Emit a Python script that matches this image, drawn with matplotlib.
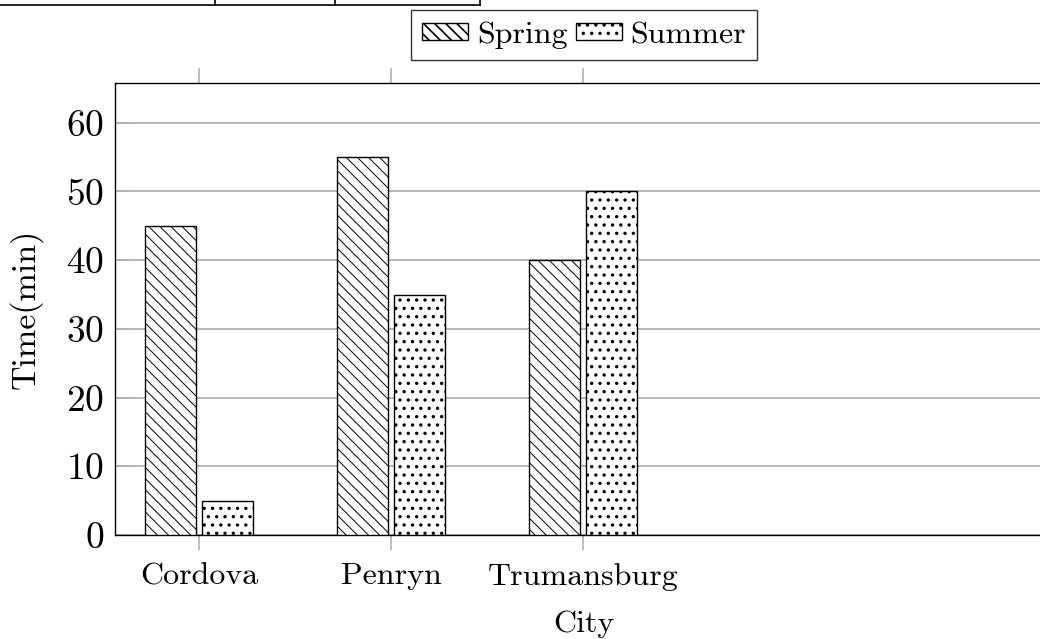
import numpy as np
import matplotlib
matplotlib.use('Agg')
import matplotlib.pyplot as plt
from matplotlib.lines import Line2D

# Data
cities = ['Cordova', 'Penryn', 'Trumansburg']
spring = [45, 55, 40]
summer = [5, 35, 50]

plt.rcParams['font.family'] = 'cmr10'
plt.rcParams['mathtext.fontset'] = 'cm'
plt.rcParams['axes.formatter.use_mathtext'] = True

fig = plt.figure(figsize=(10.4, 6.39), dpi=100)
ax = fig.add_axes([0.1106, 0.1628, 0.902, 0.7074])

x = np.arange(len(cities))
width = 0.265
plt.rcParams['hatch.linewidth'] = 0.7
ax.bar(x - 0.147, spring, width, facecolor='white', edgecolor='black',
       linewidth=1.0, hatch='\\\\\\', label='Spring', zorder=3)
plt.rcParams['hatch.linewidth'] = 1.2
ax.bar(x + 0.15, summer, width, facecolor='white', edgecolor='black',
       linewidth=1.0, hatch='..', label='Summer', zorder=3)

ax.set_xlim(-0.4375, 4.448)
ax.set_ylim(0, 65.8)
ax.set_yticks(np.arange(0, 61, 10))
ax.set_xticks(x)
ax.set_xticklabels(cities, fontsize=23)
ax.tick_params(axis='y', labelsize=27, direction='in', length=10,
               color='#b0b0b0', width=1.2, pad=8)
ax.tick_params(axis='x', direction='out', length=11, color='#b0b0b0',
               width=1.2, top=True, pad=9)
ax.yaxis.grid(True, color='#b0b0b0', linewidth=1.3, zorder=0)
ax.set_axisbelow(True)
for s in ax.spines.values():
    s.set_linewidth(1.0)

ax.set_xlabel('City', fontsize=23, labelpad=14)
ax.set_ylabel('Time(min)', fontsize=24.5, labelpad=17)

leg = ax.legend(loc='lower center', bbox_to_anchor=(0.5, 1.05), ncol=2,
                fontsize=23, frameon=True, fancybox=False, edgecolor='black',
                handlelength=1.46, handleheight=0.46, handletextpad=0.26,
                columnspacing=0.26, borderpad=0.35, borderaxespad=0)
leg.get_frame().set_linewidth(1.0)

# clipped table lines at the top left
W, H = 1040.0, 639.0
fig.add_artist(Line2D([0, 480 / W], [1 - 5 / H, 1 - 5 / H], color='black', lw=1.2))
for xp in [215, 335, 480]:
    fig.add_artist(Line2D([xp / W, xp / W], [1, 1 - 5 / H], color='black', lw=1.2))

fig.savefig('out.png', dpi=100)
